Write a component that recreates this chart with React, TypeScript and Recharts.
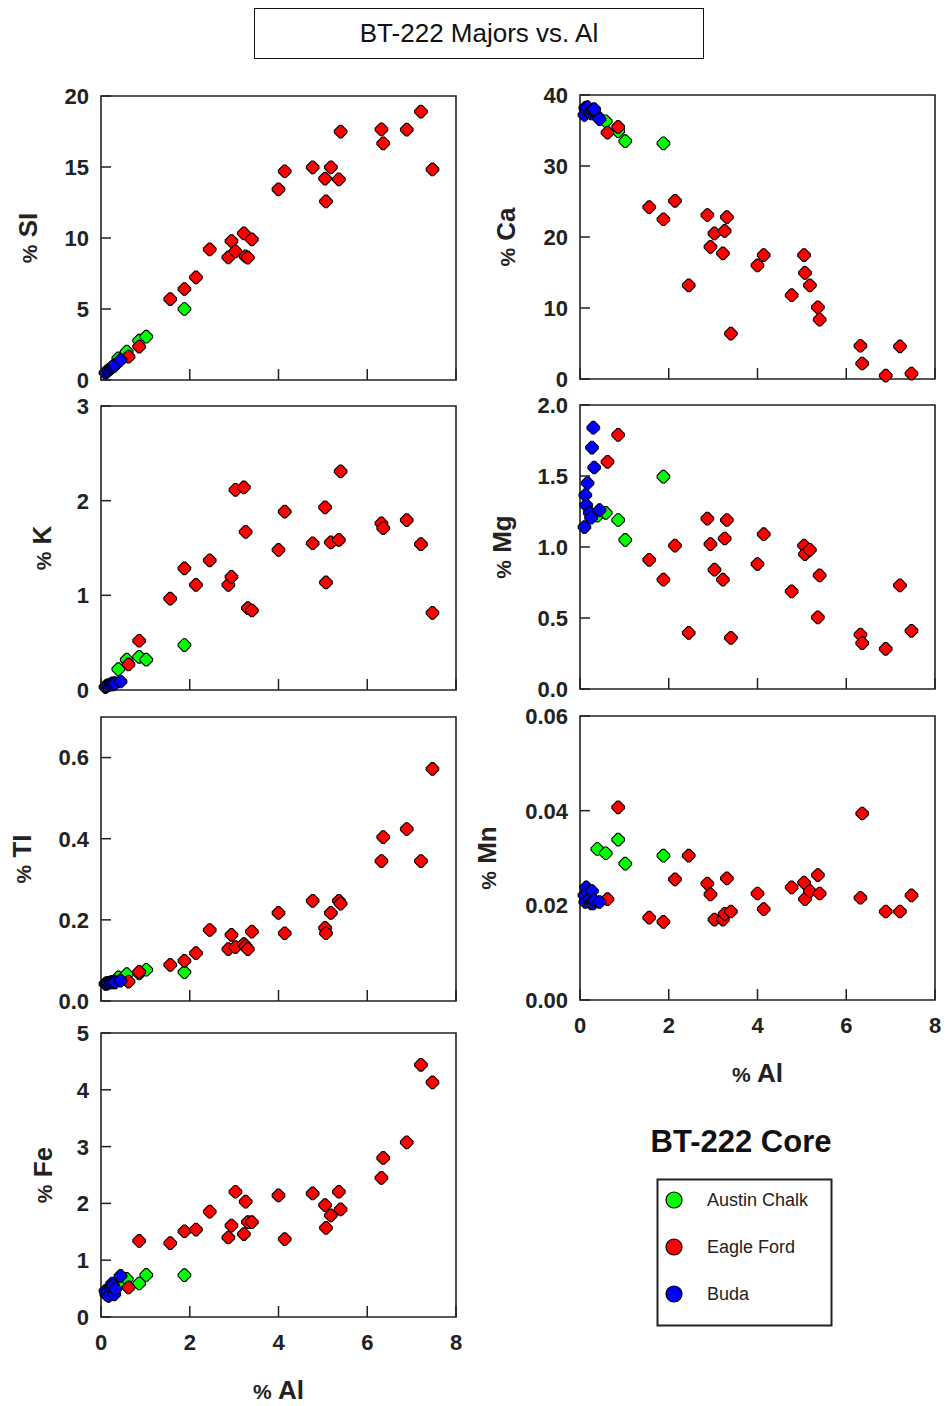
import React from 'react';
import { ScatterChart, Scatter, XAxis, YAxis, ReferenceArea } from 'recharts';

const groups = ['Austin Chalk', 'Eagle Ford', 'Buda'];
const groupColors = ['#00ff00', '#ff0000', '#0000ff'];

// one entry per sample: 0 = Austin Chalk, 1 = Eagle Ford, 2 = Buda
const group = [
  2, 2, 2, 2, 2, 2, 2, 2, 2, 2,
  0, 0, 0, 0, 0,
  1, 1, 1, 1, 1, 1, 1, 1, 1, 1, 1, 1, 1, 1, 1, 1, 1, 1, 1, 1, 1, 1, 1, 1, 1, 1,
];
const al = [
  0.10, 0.12, 0.14, 0.17, 0.22, 0.25, 0.27, 0.30, 0.32, 0.44,
  0.39, 0.58, 0.86, 1.02, 1.88,
  0.62, 0.86, 1.56, 1.88, 2.14, 2.45, 2.87, 2.94, 3.03, 3.22, 3.26, 3.31, 3.40,
  4.00, 4.14, 4.77, 5.05, 5.07, 5.18, 5.36, 5.40, 6.32, 6.36, 6.89, 7.21, 7.47,
];
const si = [
  0.50, 0.55, 0.62, 0.70, 0.82, 0.90, 0.95, 1.00, 1.08, 1.41,
  1.52, 2.00, 2.77, 3.05, 5.00,
  1.64, 2.35, 5.70, 6.41, 7.23, 9.20, 8.64, 9.79, 9.06, 10.33, 8.70, 8.62, 9.90,
  13.43, 14.70, 14.98, 14.18, 12.58, 14.98, 14.13, 17.49, 17.65, 16.67, 17.63, 18.90, 14.83,
];
const ca = [
  37.2, 38.2, 37.9, 38.3, 37.6, 37.4, 37.8, 37.9, 38.0, 36.6,
  37.0, 36.3, 34.9, 33.5, 33.2,
  34.7, 35.5, 24.2, 22.5, 25.1, 13.2, 23.1, 18.6, 20.5, 17.7, 20.85, 22.8, 6.4,
  16.0, 17.45, 11.8, 17.45, 14.94, 13.2, 10.1, 8.37, 4.68, 2.18, 0.47, 4.59, 0.76,
];
const k = [
  0.03, 0.04, 0.05, 0.05, 0.06, 0.07, 0.06, 0.07, 0.07, 0.09,
  0.22, 0.32, 0.35, 0.32, 0.475,
  0.27, 0.52, 0.965, 1.285, 1.11, 1.37, 1.11, 1.195, 2.115, 2.14, 1.67, 0.865, 0.84,
  1.48, 1.885, 1.55, 1.93, 1.136, 1.56, 1.585, 2.31, 1.76, 1.71, 1.795, 1.54, 0.815,
];
const mg = [
  1.14, 1.365, 1.295, 1.45, 1.24, 1.206, 1.70, 1.84, 1.56, 1.26,
  1.22, 1.24, 1.19, 1.05, 1.495,
  1.60, 1.79, 0.91, 0.77, 1.01, 0.395, 1.20, 1.02, 0.84, 0.77, 1.06, 1.19, 0.36,
  0.88, 1.09, 0.687, 1.01, 0.95, 0.98, 0.505, 0.80, 0.383, 0.323, 0.283, 0.73, 0.41,
];
const ti = [
  0.042, 0.044, 0.043, 0.045, 0.046, 0.047, 0.046, 0.048, 0.046, 0.050,
  0.058, 0.066, 0.068, 0.077, 0.071,
  0.048, 0.072, 0.089, 0.099, 0.118, 0.175, 0.128, 0.163, 0.133, 0.140, 0.135, 0.128, 0.171,
  0.217, 0.167, 0.247, 0.180, 0.167, 0.217, 0.247, 0.240, 0.345, 0.404, 0.424, 0.345, 0.572,
];
const mn = [
  0.0221, 0.0207, 0.0238, 0.0228, 0.0214, 0.0204, 0.0230, 0.0204, 0.0210, 0.0207,
  0.0319, 0.0310, 0.0339, 0.0288, 0.0305,
  0.0213, 0.0407, 0.0174, 0.0165, 0.0255, 0.0305, 0.0246, 0.0223, 0.0170, 0.0170, 0.0182, 0.0257, 0.0187,
  0.0225, 0.0192, 0.0238, 0.0248, 0.0213, 0.0230, 0.0264, 0.0225, 0.0216, 0.0394, 0.0187, 0.0187, 0.0221,
];
const fe = [
  0.46, 0.40, 0.44, 0.37, 0.52, 0.59, 0.55, 0.40, 0.49, 0.725,
  0.58, 0.67, 0.59, 0.74, 0.737,
  0.52, 1.34, 1.30, 1.51, 1.54, 1.855, 1.40, 1.61, 2.205, 1.46, 2.03, 1.67, 1.67,
  2.14, 1.37, 2.175, 1.97, 1.57, 1.79, 2.205, 1.895, 2.45, 2.80, 3.075, 4.44, 4.13,
];

const xTicks = [0, 2, 4, 6, 8];

const FONT = 'Arial, "Liberation Sans", Helvetica, sans-serif';
const INK = '#222';
const PLOT_W = 355;
const PLOT_H = 284;
const YW = 120;
const TM = 14;
const RM = 12;

const rowsFor = (values: number[], g: number) =>
  al.map((a, i) => ({ x: a, y: values[i], g: group[i] })).filter((r) => r.g === g);

const Diamond = (p: any) => {
  const { cx, cy, fill } = p;
  if (cx == null || cy == null) return null;
  const r = 6.3;
  const c = 1.2;
  const pts = [
    [cx - r, cy - c], [cx - c, cy - r], [cx + c, cy - r], [cx + r, cy - c],
    [cx + r, cy + c], [cx + c, cy + r], [cx - c, cy + r], [cx - r, cy + c],
  ].map((q) => q.join(',')).join(' ');
  return <polygon points={pts} fill={fill} stroke="#000" strokeWidth={1.1} />;
};

const YTick = (props: any) => {
  const { x, y, payload, decimals } = props;
  return (
    <g>
      <line x1={x} x2={x + 10} y1={y} y2={y} stroke={INK} strokeWidth={1.5} />
      <text x={x - 12} y={y} dy="0.36em" textAnchor="end" fontFamily={FONT} fontSize={22} fontWeight="bold" fill={INK}>
        {Number(payload.value).toFixed(decimals)}
      </text>
    </g>
  );
};

const XTick = (props: any) => {
  const { x, y, payload, show } = props;
  return (
    <g>
      <line x1={x} x2={x} y1={y} y2={y - 11} stroke={INK} strokeWidth={1.5} />
      {show && (
        <text x={x} y={y + 25} dy="0.36em" textAnchor="middle" fontFamily={FONT} fontSize={22} fontWeight="bold" fill={INK}>
          {payload.value}
        </text>
      )}
    </g>
  );
};

const AxisTitle = ({ cx, cy, text, rotate }: { cx: number; cy: number; text: string; rotate?: boolean }) => (
  <text
    x={cx}
    y={cy}
    dy="0.36em"
    textAnchor="middle"
    transform={rotate ? `rotate(-90, ${cx}, ${cy})` : undefined}
    fontFamily={FONT}
    fontWeight="bold"
    fontSize={26}
    fill={INK}
  >
    <tspan fontSize={21}>%</tspan>
    {' ' + text}
  </text>
);

type PanelProps = {
  left: number;
  top: number;
  values: number[];
  yMax: number;
  yTicks: number[];
  decimals: number;
  label: string;
  labelDx: number;
  xLabels?: boolean;
};

function Panel({ left, top, values, yMax, yTicks, decimals, label, labelDx, xLabels }: PanelProps) {
  const xh = xLabels ? 95 : 14;
  const width = YW + PLOT_W + RM;
  const height = TM + PLOT_H + xh;
  return (
    <div style={{ position: 'absolute', left: left - YW, top: top - TM }}>
      <ScatterChart width={width} height={height} margin={{ top: TM, right: RM, bottom: 0, left: 0 }}>
        <XAxis
          type="number"
          dataKey="x"
          domain={[0, 8]}
          ticks={xTicks}
          interval={0}
          height={xh}
          axisLine={false}
          tickLine={false}
          tickSize={0}
          tickMargin={0}
          tick={<XTick show={!!xLabels} />}
          label={
            xLabels
              ? () => <AxisTitle cx={YW + PLOT_W / 2} cy={TM + PLOT_H + 73} text="Al" />
              : undefined
          }
        />
        <YAxis
          type="number"
          dataKey="y"
          domain={[0, yMax]}
          ticks={yTicks}
          interval={0}
          width={YW}
          axisLine={false}
          tickLine={false}
          tickSize={0}
          tickMargin={0}
          tick={<YTick decimals={decimals} />}
          label={() => <AxisTitle cx={YW + labelDx} cy={TM + PLOT_H / 2} text={label} rotate />}
        />
        <ReferenceArea x1={0} x2={8} y1={0} y2={yMax} fill="none" stroke={INK} strokeWidth={1.6} />
        {groups.map((name, g) => (
          <Scatter
            key={name}
            name={name}
            data={rowsFor(values, g)}
            fill={groupColors[g]}
            shape={Diamond}
            isAnimationActive={false}
          />
        ))}
      </ScatterChart>
    </div>
  );
}

const LEFT_X = 101;
const RIGHT_X = 580;

export default function App() {
  return (
    <div style={{ position: 'absolute', left: 0, top: 0, width: 947, height: 1406, background: '#fff', fontFamily: FONT }}>
      <div
        style={{
          position: 'absolute', left: 254, top: 8, width: 450, height: 51, boxSizing: 'border-box',
          border: '1.5px solid #111', display: 'flex', alignItems: 'center', justifyContent: 'center',
          fontSize: 26, color: '#111',
        }}
      >
        BT-222 Majors vs. Al
      </div>

      <Panel left={LEFT_X} top={96} values={si} yMax={20} yTicks={[0, 5, 10, 15, 20]} decimals={0} label="SI" labelDx={-73} />
      <Panel left={LEFT_X} top={406} values={k} yMax={3} yTicks={[0, 1, 2, 3]} decimals={0} label="K" labelDx={-59} />
      <Panel left={LEFT_X} top={717} values={ti} yMax={0.7} yTicks={[0, 0.2, 0.4, 0.6]} decimals={1} label="TI" labelDx={-79} />
      <Panel left={LEFT_X} top={1033} values={fe} yMax={5} yTicks={[0, 1, 2, 3, 4, 5]} decimals={0} label="Fe" labelDx={-58} xLabels />

      <Panel left={RIGHT_X} top={95} values={ca} yMax={40} yTicks={[0, 10, 20, 30, 40]} decimals={0} label="Ca" labelDx={-74} />
      <Panel left={RIGHT_X} top={405} values={mg} yMax={2} yTicks={[0, 0.5, 1, 1.5, 2]} decimals={1} label="Mg" labelDx={-78} />
      <Panel left={RIGHT_X} top={716} values={mn} yMax={0.06} yTicks={[0, 0.02, 0.04, 0.06]} decimals={2} label="Mn" labelDx={-93} xLabels />

      <div style={{ position: 'absolute', left: 600, top: 1124, width: 282, textAlign: 'center', fontSize: 31, fontWeight: 'bold', color: '#111' }}>
        BT-222 Core
      </div>

      <svg style={{ position: 'absolute', left: 656, top: 1178 }} width={178} height={149}>
        <rect x={1.5} y={1.5} width={174} height={146} fill="#fff" stroke="#222" strokeWidth={2} />
        {groups.map((name, g) => (
          <g key={name}>
            <circle cx={18} cy={22 + g * 47} r={8} fill={groupColors[g]} stroke="#000" strokeWidth={1.2} />
            <text x={51} y={22 + g * 47} dy="0.36em" fontFamily={FONT} fontSize={18} fill="#222">
              {name}
            </text>
          </g>
        ))}
      </svg>
    </div>
  );
}
